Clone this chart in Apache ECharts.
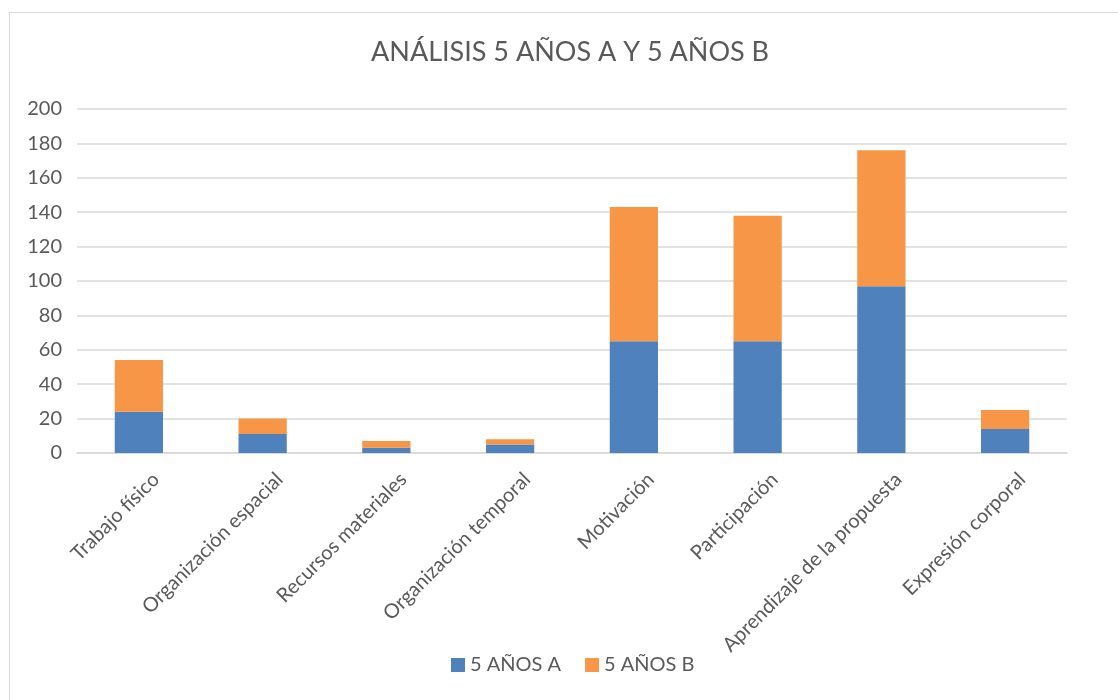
<!DOCTYPE html>
<html>
    <head>
        <title>ANÁLISIS 5 AÑOS A Y 5 AÑOS B</title>
        <meta charset="UTF-8">
        <script src="https://cdn.jsdelivr.net/npm/echarts@6/dist/echarts.min.js"></script>
        <style>
            html, body { margin: 0; padding: 0; background: #fff; overflow: hidden; }
            #frame { position: absolute; left: 9px; top: 12px; width: 1200px; height: 800px; border: 1px solid #d9d9d9; box-sizing: border-box; }
            #container { position: absolute; left: 0; top: 0; width: 1118px; height: 700px; }
        </style>
    </head>
    <body>
        <div id="frame"></div>
        <div id="container"></div>
        <script type="text/javascript">
            var categories = ['Trabajo físico', 'Organización espacial', 'Recursos materiales', 'Organización temporal',
                'Motivación', 'Participación', 'Aprendizaje de la propuesta', 'Expresión corporal'];
            var grupoA = [24, 11, 3, 5, 65, 65, 97, 14];
            var grupoB = [30, 9, 4, 3, 78, 73, 79, 11];
            var yTicks = [0, 200, 20];

            var font = 'Lato, "Open Sans", sans-serif';
            var myChart = echarts.init(document.getElementById('container'));
            var option = {
                animation: false,
                title: {
                    text: 'ANÁLISIS 5 AÑOS A Y 5 AÑOS B',
                    left: 366,
                    top: 34,
                    textStyle: { color: '#595959', fontSize: 27, fontWeight: 'normal', fontFamily: font }
                },
                legend: {
                    bottom: 20,
                    left: 446,
                    itemWidth: 14,
                    itemHeight: 14,
                    itemGap: 24,
                    icon: 'rect',
                    textStyle: { color: '#595959', fontSize: 20, fontFamily: font },
                    data: ['5 AÑOS A', '5 AÑOS B']
                },
                grid: { left: 77, right: 51, top: 109, bottom: 247 },
                xAxis: {
                    type: 'category',
                    data: categories,
                    axisLine: { lineStyle: { color: '#d9d9d9', width: 1.5 } },
                    axisTick: { show: false },
                    axisLabel: {
                        rotate: 45, color: '#595959', fontSize: 20, fontFamily: font, margin: 26, interval: 0,
                        verticalAlign: 'top', padding: [0, -14, 0, 0]
                    }
                },
                yAxis: {
                    type: 'value',
                    min: yTicks[0],
                    max: yTicks[1],
                    interval: yTicks[2],
                    axisLine: { show: false },
                    axisTick: { show: false },
                    axisLabel: { color: '#595959', fontSize: 20, fontFamily: font, margin: 15 },
                    splitLine: { lineStyle: { color: '#d9d9d9', width: 1.5 } }
                },
                series: [
                    {
                        name: '5 AÑOS A',
                        type: 'bar',
                        stack: 'total',
                        data: grupoA,
                        barWidth: '39%',
                        itemStyle: { color: '#4f81bd' }
                    },
                    {
                        name: '5 AÑOS B',
                        type: 'bar',
                        stack: 'total',
                        data: grupoB,
                        barWidth: '39%',
                        itemStyle: { color: '#f79646' }
                    }
                ]
            };
            myChart.setOption(option);
        </script>
    </body>
</html>
